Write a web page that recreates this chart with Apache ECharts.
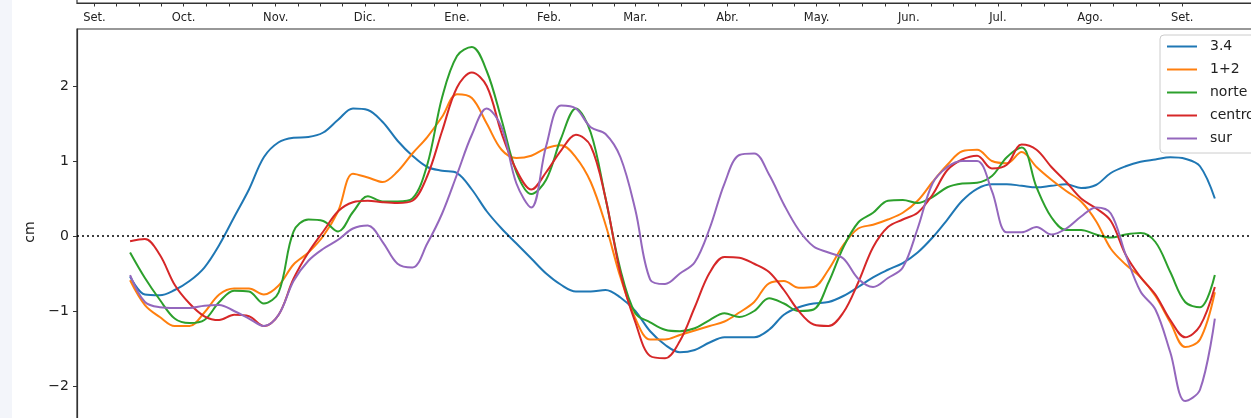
<!DOCTYPE html>
<html>
<head>
<meta charset="utf-8">
<script src="https://cdn.jsdelivr.net/npm/echarts@6/dist/echarts.min.js"></script>
<style>
  html, body { margin: 0; padding: 0; background: #f3f5fa; }
  #chart { position: absolute; left: 12px; top: 0; width: 1239px; height: 418px; background: #fff; }
</style>
</head>
<body>
<div id="chart"></div>
<script>
// Days counted from 1 September; month starts for a Sep–Sep year with a 29-day February
const monthStarts = [0, 30, 61, 91, 122, 153, 182, 213, 243, 274, 304, 335, 366];
const monthLabels = ['Set.', 'Oct.', 'Nov.', 'Dic.', 'Ene.', 'Feb.', 'Mar.', 'Abr.', 'May.', 'Jun.', 'Jul.', 'Ago.', 'Set.'];
const yTicks = [-2, -1, 0, 1, 2];

// Sample days of the smoothed anomaly series
const days = [12, 17, 22, 27, 32, 37, 42, 47, 52, 57, 62, 67, 72, 77, 82, 87, 92, 97, 102, 107,
  112, 117, 122, 127, 132, 137, 142, 147, 152, 157, 162, 167, 172, 177, 182, 187, 192, 197, 202, 207,
  212, 217, 222, 227, 232, 237, 242, 247, 252, 257, 262, 267, 272, 277, 282, 287, 292, 297, 302, 307,
  312, 317, 322, 327, 332, 337, 342, 347, 352, 357, 362, 367, 372, 377];

// Sea level anomaly (cm) per region
const nino34 = [-0.54, -0.78, -0.79, -0.72, -0.60, -0.42, -0.12, 0.25, 0.62, 1.05,
  1.25, 1.31, 1.32, 1.38, 1.55, 1.70, 1.68, 1.52, 1.27, 1.07,
  0.92, 0.87, 0.84, 0.62, 0.33, 0.10, -0.10, -0.30, -0.50, -0.65,
  -0.74, -0.74, -0.72, -0.82, -1.00, -1.27, -1.45, -1.55, -1.52, -1.42,
  -1.35, -1.35, -1.35, -1.25, -1.05, -0.95, -0.90, -0.88, -0.80, -0.68,
  -0.55, -0.45, -0.36, -0.22, -0.02, 0.22, 0.47, 0.63, 0.69, 0.69,
  0.67, 0.65, 0.67, 0.69, 0.64, 0.68, 0.84, 0.93, 0.99, 1.02,
  1.05, 1.03, 0.93, 0.50];
const nino12 = [-0.59, -0.92, -1.08, -1.20, -1.20, -1.02, -0.78, -0.70, -0.70, -0.78,
  -0.66, -0.38, -0.22, 0.00, 0.33, 0.83, 0.78, 0.72, 0.86, 1.10,
  1.32, 1.59, 1.89, 1.84, 1.50, 1.15, 1.04, 1.07, 1.17, 1.21,
  1.05, 0.72, 0.15, -0.55, -1.10, -1.38, -1.38, -1.32, -1.26, -1.20,
  -1.14, -1.02, -0.88, -0.63, -0.60, -0.69, -0.68, -0.45, -0.12, 0.10,
  0.15, 0.22, 0.31, 0.47, 0.72, 0.95, 1.13, 1.15, 1.00, 0.97,
  1.12, 0.92, 0.75, 0.60, 0.46, 0.20, -0.17, -0.38, -0.55, -0.80,
  -1.15, -1.48, -1.38, -0.75];
const norte = [-0.22, -0.56, -0.85, -1.10, -1.16, -1.12, -0.88, -0.73, -0.74, -0.90,
  -0.75, 0.06, 0.22, 0.20, 0.06, 0.32, 0.53, 0.46, 0.46, 0.50,
  0.95, 1.85, 2.40, 2.52, 2.20, 1.55, 0.85, 0.56, 0.75, 1.30,
  1.70, 1.38, 0.50, -0.45, -1.03, -1.15, -1.25, -1.27, -1.23, -1.12,
  -1.03, -1.08, -1.00, -0.83, -0.90, -1.00, -0.98, -0.62, -0.15, 0.18,
  0.31, 0.47, 0.48, 0.44, 0.52, 0.65, 0.70, 0.71, 0.80, 1.05,
  1.18, 0.65, 0.25, 0.08, 0.08, 0.02, -0.02, 0.02, 0.04, -0.08,
  -0.48, -0.88, -0.95, -0.52];
const centro = [-0.07, -0.04, -0.25, -0.65, -0.90, -1.07, -1.12, -1.05, -1.07, -1.20,
  -1.05, -0.57, -0.22, 0.06, 0.33, 0.45, 0.47, 0.45, 0.44, 0.47,
  0.80, 1.40, 1.98, 2.18, 2.00, 1.37, 0.88, 0.62, 0.85, 1.14,
  1.35, 1.20, 0.50, -0.50, -1.15, -1.60, -1.63, -1.40, -0.95, -0.49,
  -0.28, -0.29, -0.37, -0.48, -0.72, -1.00, -1.18, -1.20, -1.02, -0.62,
  -0.15, 0.12, 0.22, 0.31, 0.55, 0.88, 1.02, 1.07, 0.90, 0.95,
  1.22, 1.15, 0.92, 0.72, 0.50, 0.37, 0.20, -0.25, -0.55, -0.78,
  -1.12, -1.35, -1.20, -0.68];
const sur = [-0.52, -0.88, -0.95, -0.96, -0.96, -0.93, -0.92, -1.00, -1.10, -1.20,
  -1.05, -0.60, -0.33, -0.17, -0.05, 0.10, 0.14, -0.08, -0.37, -0.42,
  -0.10, 0.30, 0.82, 1.35, 1.70, 1.45, 0.70, 0.38, 1.20, 1.74,
  1.70, 1.45, 1.36, 1.05, 0.35, -0.58, -0.64, -0.50, -0.35, 0.10,
  0.70, 1.08, 1.10, 0.82, 0.42, 0.08, -0.14, -0.22, -0.30, -0.57,
  -0.68, -0.56, -0.42, 0.10, 0.70, 0.92, 1.00, 1.00, 0.60, 0.05,
  0.05, 0.12, 0.02, 0.10, 0.26, 0.38, 0.30, -0.25, -0.74, -0.98,
  -1.55, -2.20, -2.05, -1.10];

const seriesNames = ['3.4', '1+2', 'norte', 'centro', 'sur'];
const seriesColors = ['#1f77b4', '#ff7f0e', '#2ca02c', '#d62728', '#9467bd'];
const seriesValues = [nino34, nino12, norte, centro, sur];

// Minor ticks: each month split in quarters
const tickDays = [];
for (let i = 0; i < monthStarts.length - 1; i++) {
  const s = monthStarts[i], len = monthStarts[i + 1] - s;
  tickDays.push(s, s + len / 4, s + len / 2, s + 3 * len / 4);
}
tickDays.push(monthStarts[monthStarts.length - 1]);

const FONT = '"DejaVu Sans", sans-serif';
const X_MIN = -5.855, X_MAX = 431.56;

const chart = echarts.init(document.getElementById('chart'), null, { renderer: 'canvas' });

const lineSeries = seriesNames.map((name, k) => ({
  name: name,
  type: 'line',
  xAxisIndex: 0,
  yAxisIndex: 0,
  data: days.map((d, i) => [d, seriesValues[k][i]]),
  showSymbol: false,
  smooth: 0.35,
  color: seriesColors[k],
  lineStyle: { width: 2, color: seriesColors[k] },
  z: 2 + k
}));

// Dotted zero reference line
lineSeries[lineSeries.length - 1].markLine = {
  silent: true,
  symbol: 'none',
  label: { show: false },
  lineStyle: { color: '#000', type: [2, 3], width: 1.6 },
  emphasis: { disabled: true },
  data: [{ yAxis: 0 }]
};

chart.setOption({
  animation: false,
  backgroundColor: '#ffffff',
  grid: [
    { left: 65, top: 29, width: 1300, height: 406, show: true, borderColor: '#333', borderWidth: 1.2,
      backgroundColor: 'transparent', containLabel: false, outerBoundsMode: 'none' },
    { left: 65, top: -60, width: 1300, height: 63, show: true, borderColor: '#333', borderWidth: 1.2,
      backgroundColor: 'transparent', containLabel: false, outerBoundsMode: 'none' }
  ],
  xAxis: [
    {
      gridIndex: 0, type: 'value', min: X_MIN, max: X_MAX,
      axisLine: { show: false, onZero: false }, axisTick: { show: false }, axisLabel: { show: false }, splitLine: { show: false }
    },
    {
      gridIndex: 1, type: 'value', min: X_MIN, max: X_MAX, position: 'bottom',
      axisLine: { show: true, onZero: false, lineStyle: { color: '#333', width: 1.2 } },
      axisTick: { show: true, inside: false, length: 3.5, customValues: tickDays, lineStyle: { color: '#333', width: 1 } },
      axisLabel: {
        customValues: monthStarts,
        formatter: v => monthLabels[monthStarts.indexOf(v)],
        fontSize: 11.5, color: '#222', margin: 9, fontFamily: FONT
      },
      splitLine: { show: false }
    }
  ],
  yAxis: [
    {
      gridIndex: 0, type: 'value', min: -2.653, max: 2.76, position: 'left',
      axisLine: { show: true, onZero: false, lineStyle: { color: '#333', width: 1.2 } },
      axisTick: { show: true, inside: false, length: 4, customValues: yTicks, lineStyle: { color: '#333', width: 1 } },
      axisLabel: {
        customValues: yTicks,
        formatter: v => (v < 0 ? '\u2212' + Math.abs(v) : String(v)),
        fontSize: 14, color: '#222', margin: 8, fontFamily: FONT
      },
      splitLine: { show: false },
      name: 'cm', nameLocation: 'middle', nameGap: 32, nameRotate: 90,
      nameTextStyle: { fontSize: 14, color: '#222', fontFamily: FONT }
    },
    { gridIndex: 1, type: 'value', min: 0, max: 1, show: false }
  ],
  legend: {
    orient: 'vertical',
    left: 1148, top: 35,
    itemWidth: 30, itemHeight: 2, icon: 'rect', itemGap: 0,
    padding: [0, 12, 3, 7],
    borderColor: '#cccccc', borderWidth: 1, borderRadius: 4,
    backgroundColor: 'rgba(255,255,255,0.85)',
    textStyle: { fontSize: 14, lineHeight: 23, color: '#222', fontFamily: FONT, padding: [0, 0, 0, 8] },
    data: seriesNames
  },
  series: lineSeries
});
</script>
</body>
</html>
